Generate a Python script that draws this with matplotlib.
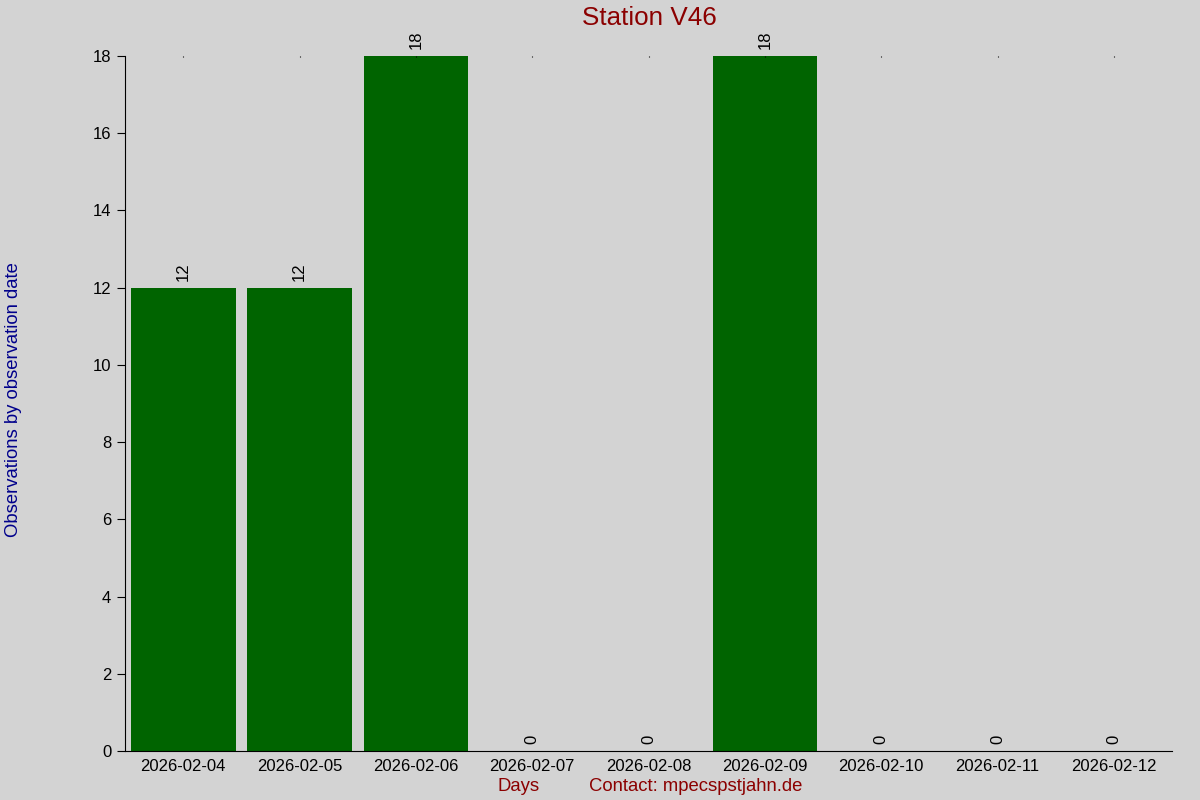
import matplotlib.pyplot as plt

plt.rcParams['font.family'] = ['Liberation Sans', 'DejaVu Sans']

days = ['2026-02-04', '2026-02-05', '2026-02-06', '2026-02-07', '2026-02-08',
        '2026-02-09', '2026-02-10', '2026-02-11', '2026-02-12']
counts = [12, 12, 18, 0, 0, 18, 0, 0, 0]
station = 'V46'

bg = '#d3d3d3'
fig = plt.figure(figsize=(12, 8), dpi=100, facecolor=bg)
ax = fig.add_axes([0.1042, 0.06125, 0.8725, 0.86875], facecolor=bg)

x = list(range(len(days)))
ax.bar(x, counts, width=0.9, color='#006400')

for xi, c in zip(x, counts):
    ax.annotate(str(c), (xi, c), xytext=(0, 5), textcoords='offset points',
                rotation=90, ha='center', va='bottom', fontsize=12)

ax.set_xlim(-0.5, len(days) - 0.5)
ax.set_ylim(0, 18)
ax.set_yticks(range(0, 19, 2))
ax.set_xticks(x)
ax.set_xticklabels(days)

for s in ['top', 'right']:
    ax.spines[s].set_visible(False)
ax.tick_params(axis='y', length=6, labelsize=12, pad=4)
ax.tick_params(axis='x', bottom=False, top=True, length=1, direction='in',
               labelsize=12, pad=6)

fig.text(0.541, 0.978, 'Station ' + station, color='#8b0000', fontsize=18.7,
         ha='center', va='center')
fig.text(0.0045, 0.5, 'Observations by observation date', color='#00008b',
         fontsize=13.3, rotation=90, ha='left', va='center')
fig.text(0.432, 0.017, 'Days', color='#8b0000', fontsize=13.3, ha='center',
         va='center')
fig.text(0.58, 0.017, 'Contact: mpecspstjahn.de', color='#8b0000',
         fontsize=13.3, ha='center', va='center')

fig.savefig('out.png', facecolor=bg)
